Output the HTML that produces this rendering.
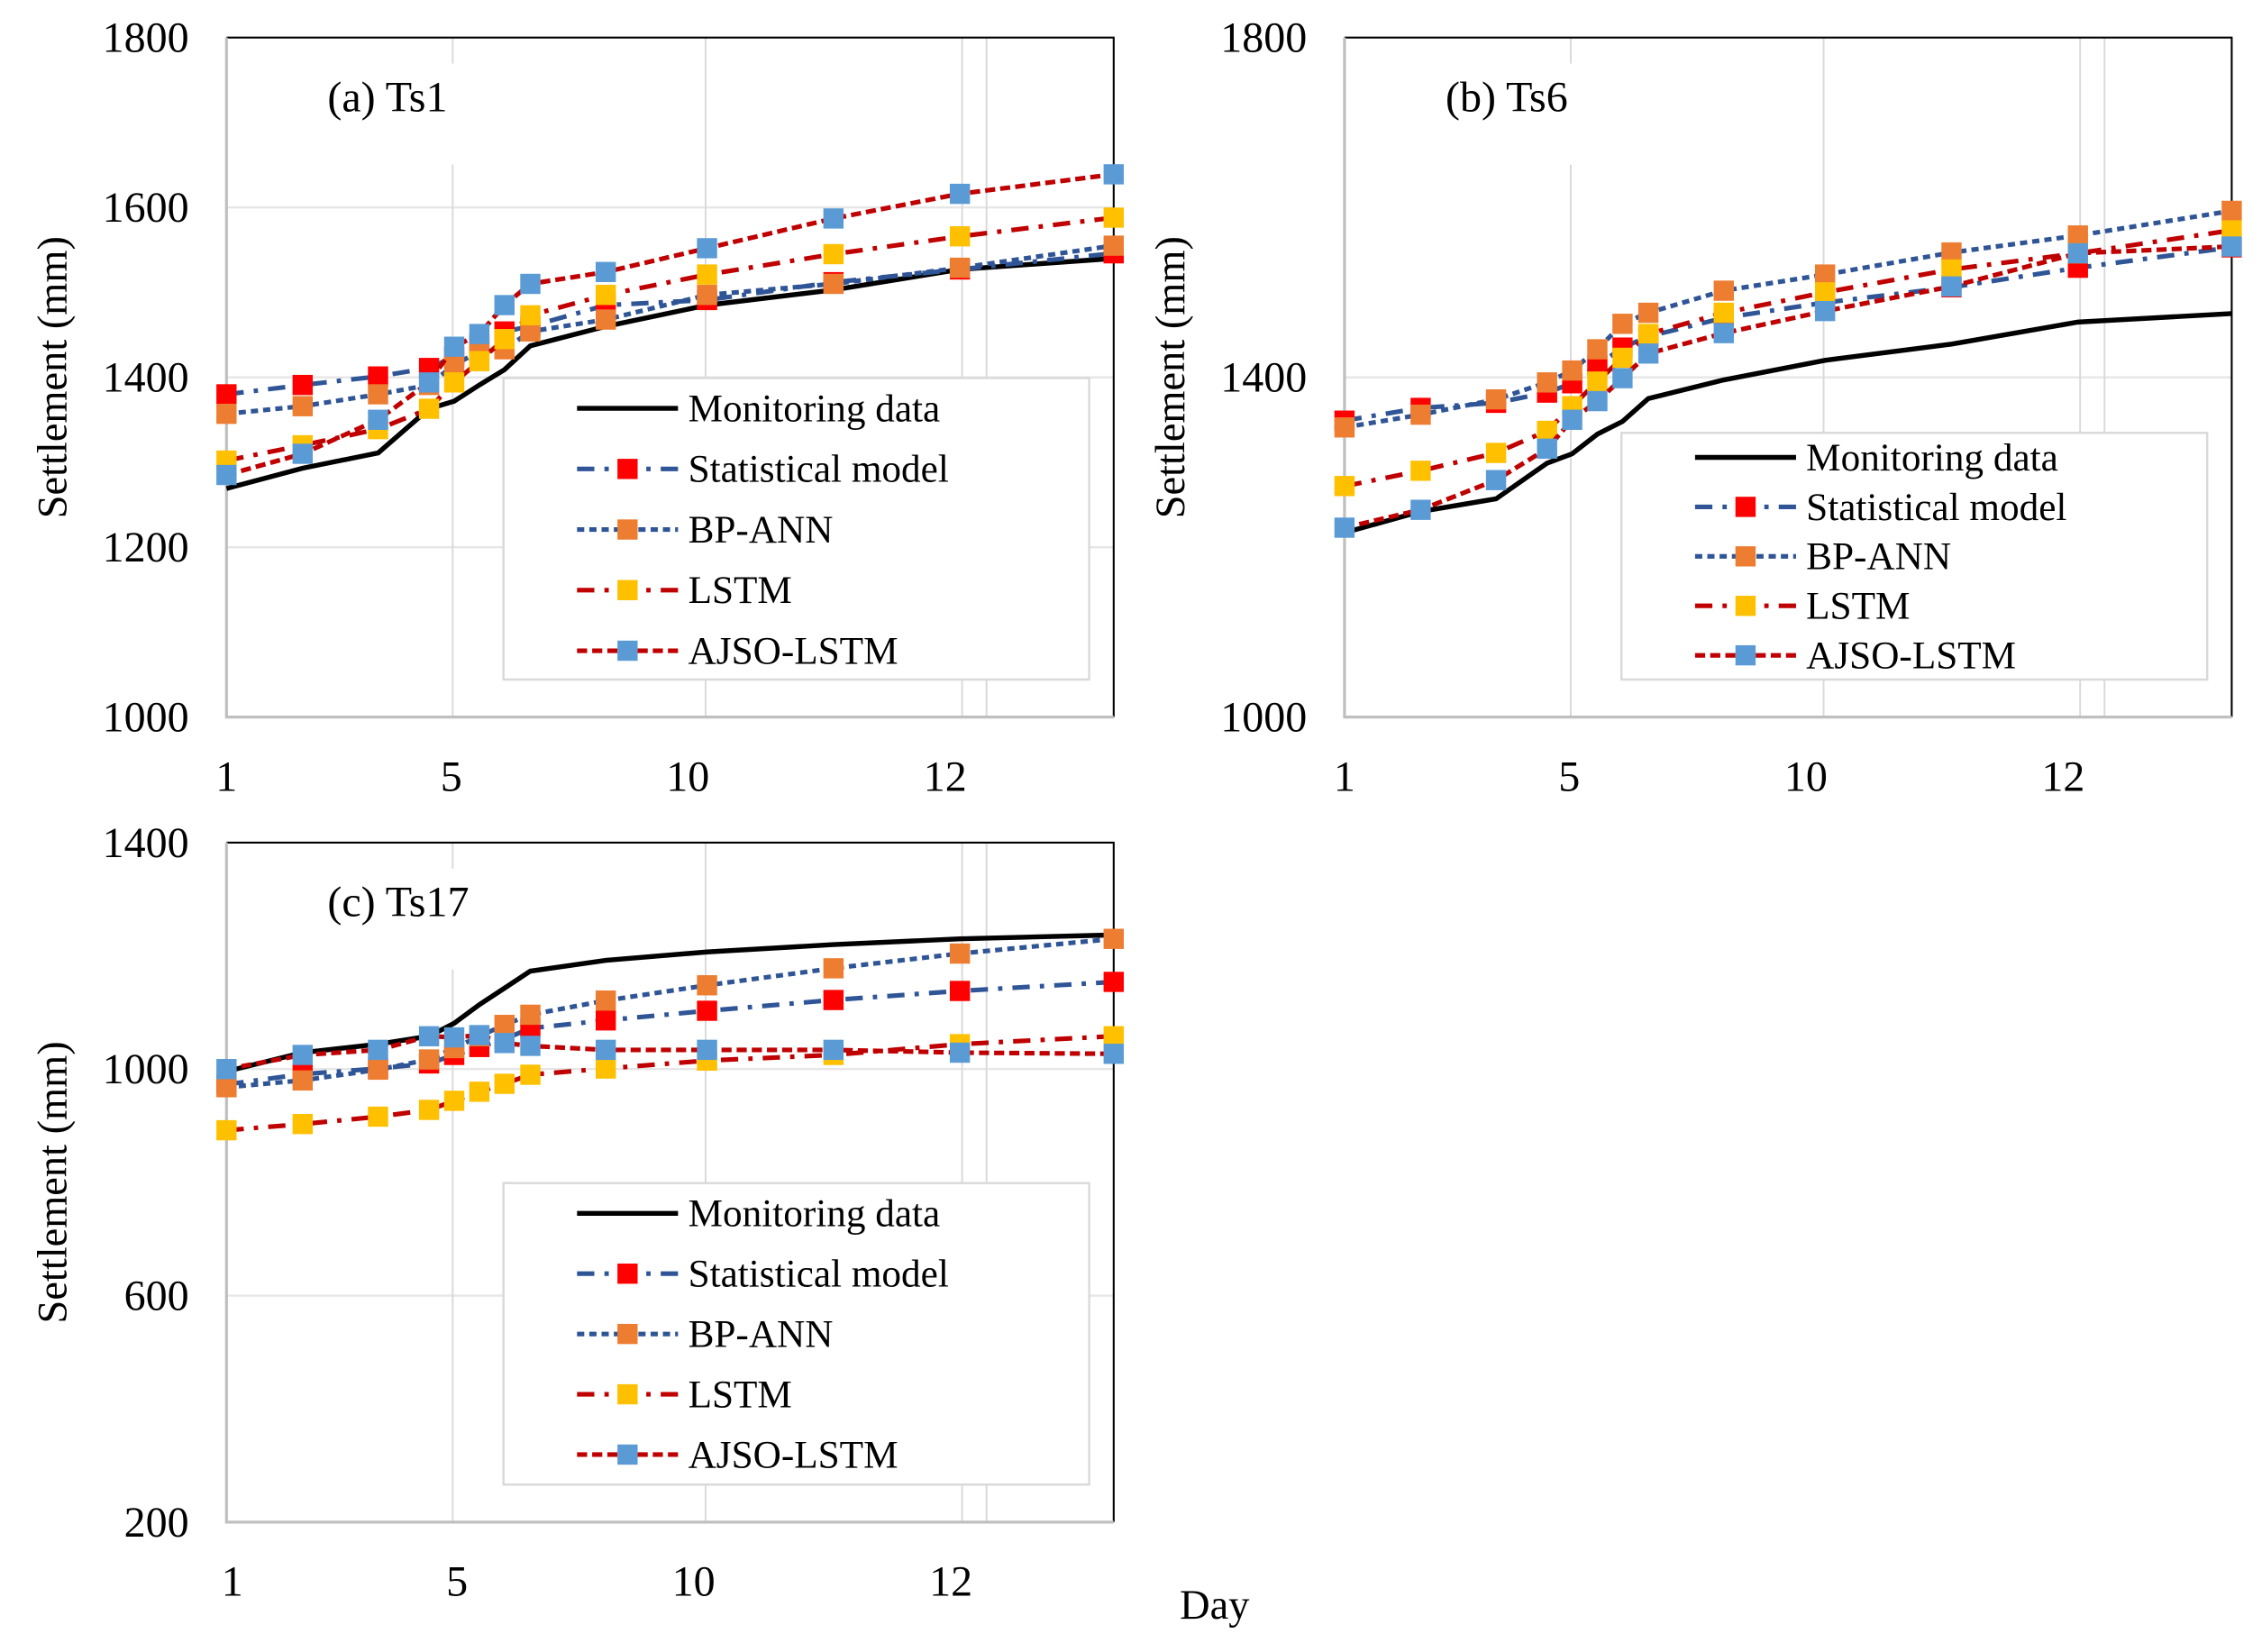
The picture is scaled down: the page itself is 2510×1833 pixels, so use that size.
<!DOCTYPE html>
<html><head><meta charset="utf-8"><style>
html,body{margin:0;padding:0;background:#fff}
svg{display:block}
text{font-family:"Liberation Serif",serif;fill:#000}
</style></head><body>
<svg id="chart" xmlns="http://www.w3.org/2000/svg" width="2510" height="1833" viewBox="0 0 1568 1145"></svg>
<script>
// x positions of observations (index units along axis, 0..12)
const dayPos = [0,1.03,2.05,2.74,3.08,3.42,3.76,4.11,5.13,6.5,8.21,9.92,12];
const seriesNames = ["Monitoring data","Statistical model","BP-ANN","LSTM","AJSO-LSTM"];
// Panel (a) Ts1
const a_monitor = [1269,1293,1311,1363,1372,1391,1409,1437,1460,1485,1503,1527,1540];
const a_stat    = [1380,1391,1401,1411,1424,1439,1454,1460,1485,1491,1512,1527,1546];
const a_bp      = [1357,1366,1380,1391,1415,1430,1433,1454,1468,1497,1510,1529,1555];
const a_lstm    = [1302,1320,1339,1363,1394,1419,1445,1473,1497,1521,1545,1566,1588];
const a_ajso    = [1285,1310,1350,1394,1436,1451,1485,1510,1524,1552,1587,1616,1639];
// Panel (b) Ts6
const b_monitor = [1217,1242,1257,1299,1310,1333,1348,1375,1397,1420,1439,1465,1475];
const b_stat    = [1349,1364,1370,1382,1393,1414,1435,1448,1470,1488,1506,1529,1553];
const b_bp      = [1341,1356,1374,1394,1408,1433,1463,1476,1502,1521,1547,1567,1596];
const b_lstm    = [1272,1290,1311,1337,1366,1395,1423,1451,1476,1500,1527,1546,1573];
const b_ajso    = [1223,1244,1279,1316,1350,1372,1399,1428,1452,1478,1507,1546,1554];
// Panel (c) Ts17
const c_monitor = [996,1029,1044,1058,1081,1114,1143,1173,1192,1207,1220,1230,1237];
const c_stat    = [973,991,1001,1010,1025,1039,1053,1072,1086,1103,1122,1138,1154];
const c_bp      = [968,980,999,1017,1037,1058,1078,1096,1121,1148,1178,1204,1230];
const c_lstm    = [892,903,916,928,944,960,974,990,1001,1015,1025,1044,1058];
const c_ajso    = [1000,1025,1034,1058,1056,1060,1046,1041,1034,1034,1034,1029,1027];
// tick labels
const xTickLabels = ["1","5","10","12"];
const xTickPos = [0,3.04,6.24,9.72];
const xGridPos = [3.06,6.48,9.95,10.28];
const a_yTicks = [1000,1200,1400,1600,1800];
const b_yTicks = [1000,1400,1800];
const c_yTicks = [200,600,1000,1400];

const NS="http://www.w3.org/2000/svg";
const svg=document.getElementById('chart');
function mk(tag,attrs,parent){const e=document.createElementNS(NS,tag);for(const k in attrs)e.setAttribute(k,attrs[k]);(parent||svg).appendChild(e);return e;}

const styles=[
 {color:"#000",dash:"",w:3.4,marker:null},
 {color:"#2F5597",dash:"12,7,3,7",w:3.2,marker:"#FF0000"},
 {color:"#2F5597",dash:"5,3.5",w:3.2,marker:"#ED7D31"},
 {color:"#C00000",dash:"12,7,3,7",w:3.2,marker:"#FFC000"},
 {color:"#C00000",dash:"7,3.5",w:3.2,marker:"#5B9BD5"}];

function panel(p){
  const g=mk('g',{});
  
  
  const X=u=>p.x0+u/12*(p.x1-p.x0);
  const Y=v=>p.y1-(v-p.ymin)/(p.ymax-p.ymin)*(p.y1-p.y0);
  p.yTicks.forEach(v=>{ if(v!==p.ymin&&v!==p.ymax){const l=mk('line',{x1:p.x0,x2:p.x1,y1:Y(v),y2:Y(v),stroke:"#e6e6e6","stroke-width":1.5},g);
    }});
  xGridPos.forEach(u=>{const l=mk('line',{x1:X(u),x2:X(u),y1:p.y0,y2:p.y1,stroke:"#d9d9d9","stroke-width":1.2},g);
    });
  mk('rect',{x:p.x0+60,y:p.y0+18,width:115,height:70,fill:"#fff"},g);
  const t=mk('text',{x:p.x0+70,y:p.y0+51,"font-size":30},g);t.textContent=p.title;
  
  const ax=mk('path',{d:`M${p.x0},${p.y0}H${p.x1}V${p.y1}`,fill:"none",stroke:"#000","stroke-width":1.3},g);
  
  const ax2=mk('path',{d:`M${p.x0},${p.y0}V${p.y1}H${p.x1}`,fill:"none",stroke:"#bfbfbf","stroke-width":2},g);
  
  p.yTicks.forEach(v=>{const tt=mk('text',{x:p.x0-26,y:Y(v)+10,"font-size":30,"text-anchor":"end"},g);tt.textContent=v;
    });
  xTickLabels.forEach((s,i)=>{const tt=mk('text',{x:X(xTickPos[i])+p.xlOff,y:p.y1+51,"font-size":30,"text-anchor":"middle"},g);tt.textContent=s;
    });
  const yt=mk('text',{x:0,y:0,"font-size":29,"text-anchor":"middle",transform:`translate(${p.x0-111},${(p.y0+p.y1)/2}) rotate(-90)`},g);
  yt.textContent="Settlement (mm)";
  
  p.data.forEach((arr,si)=>{
    const st=styles[si];
    const sg=mk('g',{},g);
    
    
    const pts=arr.map((v,i)=>X(dayPos[i]).toFixed(1)+","+Y(v).toFixed(1)).join(" ");
    const pl=mk('polyline',{points:pts,fill:"none",stroke:st.color,"stroke-width":st.w,"stroke-dasharray":st.dash},sg);
    
    if(st.marker)arr.forEach((v,i)=>{const r=mk('rect',{x:X(dayPos[i])-7,y:Y(v)-7,width:14,height:14,fill:st.marker},sg);
      });
  });
  const L=p.legend;
  const lg=mk('g',{},g);
  
  mk('rect',{x:L.x,y:L.y,width:L.w,height:L.h,fill:"#fff",stroke:"#d9d9d9","stroke-width":1.5},lg);
  seriesNames.forEach((n,i)=>{
    const st=styles[i];const yy=L.ey0+i*L.dy;
    const e=mk('g',{},lg);
    
    mk('line',{x1:L.lx,x2:L.lx+70,y1:yy,y2:yy,stroke:st.color,"stroke-width":st.w,"stroke-dasharray":st.dash},e);
    if(st.marker)mk('rect',{x:L.lx+28,y:yy-7,width:14,height:14,fill:st.marker},e);
    const tx=mk('text',{x:L.lx+77,y:yy+9,"font-size":27},e);tx.textContent=n;
  });
}

panel({id:'panel-a-ts1',title:'(a) Ts1',x0:157,x1:772,y0:26,y1:497,ymin:1000,ymax:1800,yTicks:a_yTicks,xlOff:0,
  data:[a_monitor,a_stat,a_bp,a_lstm,a_ajso],legend:{x:349,y:262,w:406,h:209,lx:400,ey0:283,dy:42}});
panel({id:'panel-b-ts6',title:'(b) Ts6',x0:932,x1:1547,y0:26,y1:497,ymin:1000,ymax:1800,yTicks:b_yTicks,xlOff:0,
  data:[b_monitor,b_stat,b_bp,b_lstm,b_ajso],legend:{x:1124,y:300,w:406,h:171,lx:1175,ey0:317,dy:34.3}});
panel({id:'panel-c-ts17',title:'(c) Ts17',x0:157,x1:772,y0:584,y1:1055,ymin:200,ymax:1400,yTicks:c_yTicks,xlOff:4,
  data:[c_monitor,c_stat,c_bp,c_lstm,c_ajso],legend:{x:349,y:820,w:406,h:209,lx:400,ey0:841,dy:41.8}});

const day=mk('text',{x:842,y:1122,"font-size":29,"text-anchor":"middle"});
day.textContent="Day";


</script>
</body></html>
